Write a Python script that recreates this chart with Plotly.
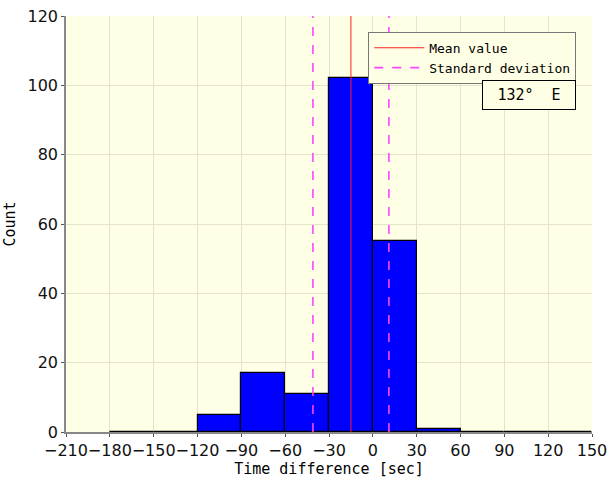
import plotly.graph_objects as go

# Histogram bins (left edges, 30 s wide) and their counts
bin_left = [-180, -150, -120, -90, -60, -30, 0, 30, 60, 90, 120]
counts = [0, 0, 5, 17, 11, 102, 55, 1, 0, 0, 0]
bin_width = 30

mean_value = -15
std_dev = 26
x_ticks = [-210, -180, -150, -120, -90, -60, -30, 0, 30, 60, 90, 120, 150]
y_ticks = [0, 20, 40, 60, 80, 100, 120]

centers = [b + bin_width / 2 for b in bin_left]
label_font = "DejaVu Sans Mono"
tick_font = "DejaVu Sans"

fig = go.Figure()
fig.add_trace(go.Bar(
    x=centers, y=counts, width=bin_width,
    marker=dict(color="#0000FF", line=dict(color="black", width=1.2)),
    showlegend=False,
))
fig.add_trace(go.Scatter(
    x=[mean_value, mean_value], y=[0, 120], mode="lines",
    line=dict(color="#FF2020", width=1), name="Mean value",
))
lo, hi = mean_value - std_dev, mean_value + std_dev
fig.add_trace(go.Scatter(
    x=[lo, lo, None, hi, hi], y=[0, 120, None, 0, 120], mode="lines",
    line=dict(color="#FF44FF", width=1.6, dash="dash"), name="Standard deviation",
))

fig.add_annotation(
    x=0.97, y=0.846, xref="paper", yref="paper", xanchor="right", yanchor="top",
    text="132°  E", showarrow=False,
    font=dict(family=label_font, size=15, color="black"),
    bordercolor="black", borderwidth=1, borderpad=5, bgcolor="#FFFFE6",
    width=82,
)

fig.update_layout(
    width=609, height=479,
    margin=dict(l=66, r=17, t=16, b=47),
    paper_bgcolor="white", plot_bgcolor="#FFFFE6",
    bargap=0,
    legend=dict(
        x=0.97, y=0.962, xanchor="right", yanchor="top",
        bgcolor="#FFFFE6", bordercolor="#777777", borderwidth=1,
        font=dict(family=label_font, size=13, color="black"),
        tracegroupgap=0, itemwidth=50,
    ),
    xaxis=dict(
        range=[-210, 150], tickvals=x_ticks, ticktext=[str(t).replace("-", "−") for t in x_ticks],
        tickangle=0,
        showgrid=True, gridcolor="#E6E3CC", gridwidth=1,
        showline=True, linecolor="#888888", linewidth=1.5,
        ticks="outside", ticklen=3, tickcolor="#555555",
        tickfont=dict(family=tick_font, size=16, color="#111111"),
        title=dict(text="Time difference [sec]", font=dict(family=label_font, size=15, color="black"), standoff=0),
        zeroline=False, automargin=False,
    ),
    yaxis=dict(
        range=[0, 120], tickvals=y_ticks,
        showgrid=True, gridcolor="#E6E3CC", gridwidth=1,
        showline=True, linecolor="#888888", linewidth=1.5,
        ticks="outside", ticklen=3, tickcolor="#555555",
        tickfont=dict(family=tick_font, size=16, color="#111111"),
        title=dict(text="Count", font=dict(family=label_font, size=15, color="black"), standoff=8),
        zeroline=False, automargin=False,
    ),
)

fig.write_html("out.html")
